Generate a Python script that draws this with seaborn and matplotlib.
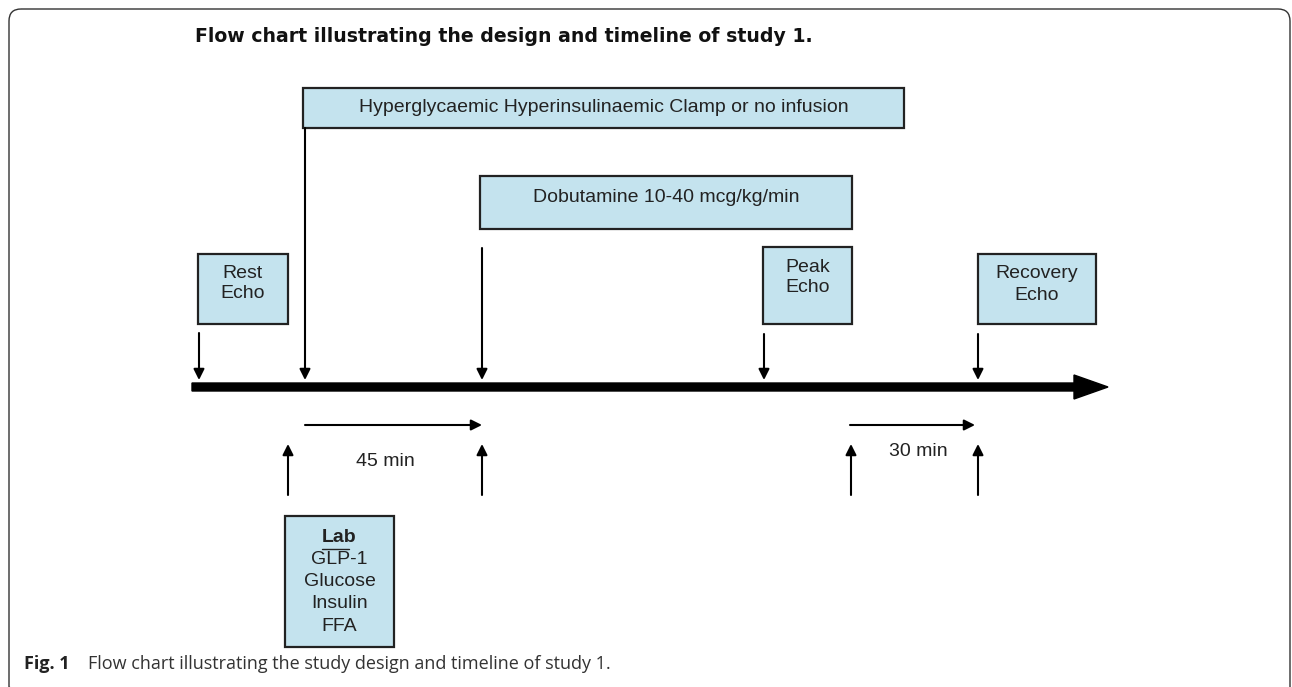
import matplotlib
matplotlib.use("Agg")
import matplotlib.pyplot as plt
import seaborn as sns
from matplotlib.patches import FancyBboxPatch, Rectangle, FancyArrow

# chart content
title = "Flow chart illustrating the design and timeline of study 1."
stage_labels = ["Hyperglycaemic Hyperinsulinaemic Clamp or no infusion",
                "Dobutamine 10-40 mcg/kg/min"]
echo_labels = ["Rest\nEcho", "Peak\nEcho", "Recovery\nEcho"]
lab_title = "Lab"
lab_items = ["GLP-1", "Glucose", "Insulin", "FFA"]
interval_labels = ["45 min", "30 min"]
caption_bold = "Fig. 1"
caption_text = "Flow chart illustrating the study design and timeline of study 1."

# layout (pixel space, y downwards)
stage_boxes = [(303, 88, 601, 40), (480, 176, 372, 53)]
stage_text_y = [108, 197]
echo_boxes = [(198, 254, 90, 70), (763, 247, 89, 77), (978, 254, 118, 70)]
echo_text_y = [273, 267, 274]
lab_box = (285, 516, 109, 131)
down_arrows = [(199, 333), (305, 128), (482, 248), (764, 334), (978, 334)]
up_arrows = [288, 482, 851, 978]
span_arrows = [(305, 482), (850, 975)]
span_text = [(385, 461), (918, 452)]

box_fc = "#c4e3ee"
sans = ["Liberation Sans", "DejaVu Sans"]

sns.set_theme(style="white")
fig = plt.figure(figsize=(12.92, 6.87), dpi=100)
ax = fig.add_axes([0, 0, 1, 1])
ax.set_xlim(0, 1292)
ax.set_ylim(687, 0)
ax.axis("off")

# outer frame
ax.add_patch(FancyBboxPatch((9, 9), 1281, 690, boxstyle="round,pad=0,rounding_size=12",
                            fc="none", ec="#333333", lw=1.0, clip_on=False))

ax.text(195, 36, title, fontsize=13.6, fontweight="bold", family="DejaVu Sans",
        ha="left", va="center", color="#111111")

def box(x, y, w, h):
    ax.add_patch(Rectangle((x, y), w, h, fc=box_fc, ec="#222222", lw=1.6))

for (x, y, w, h), lab, ty in zip(stage_boxes, stage_labels, stage_text_y):
    box(x, y, w, h)
    ax.text(x + w / 2, ty, lab, fontsize=14, family=sans, ha="center", va="center",
            color="#222222")

for (x, y, w, h), lab, ty in zip(echo_boxes, echo_labels, echo_text_y):
    box(x, y, w, h)
    for j, line in enumerate(lab.split("\n")):
        ax.text(x + w / 2, ty + j * 21, line, fontsize=14, family=sans,
                ha="center", va="center", color="#222222")

x, y, w, h = lab_box
box(x, y, w, h)
ax.text(x + w / 2, 537, lab_title, fontsize=14, fontweight="bold", family=sans,
        ha="center", va="center", color="#222222")
for i, item in enumerate(lab_items):
    ax.text(x + w / 2, 559 + i * 22.5, item, fontsize=14, family=sans,
            ha="center", va="center", color="#222222")
# small stray stroke over "LP" in the original
ax.plot([322, 349], [549, 549], color="#222222", lw=1.0)

# timeline
ax.add_patch(FancyArrow(192, 387, 916, 0, width=8, head_width=24, head_length=34,
                        length_includes_head=True, fc="black", ec="black"))

def arrow(x0, y0, x1, y1):
    ax.annotate("", xy=(x1, y1), xytext=(x0, y0),
                arrowprops=dict(arrowstyle="-|>", color="black", lw=1.5,
                                mutation_scale=16, shrinkA=0, shrinkB=0))

for xd, yd in down_arrows:
    arrow(xd, yd, xd, 380)
for xu in up_arrows:
    arrow(xu, 495, xu, 444)
for (xa, xb) in span_arrows:
    arrow(xa, 425, xb, 425)
for (tx, ty), lab in zip(span_text, interval_labels):
    ax.text(tx, ty, lab, fontsize=14, family=sans, ha="center", va="center",
            color="#222222")

ax.text(24, 664, caption_bold, fontsize=13, fontweight="bold", family="Open Sans",
        ha="left", va="center", color="#222222")
ax.text(88, 664, caption_text, fontsize=13, family="Open Sans",
        ha="left", va="center", color="#333333")

fig.savefig("out.png", dpi=100)
